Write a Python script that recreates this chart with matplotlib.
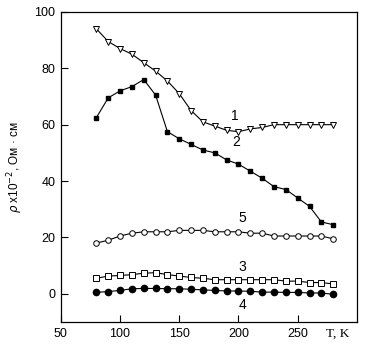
import matplotlib
matplotlib.use("Agg")
from matplotlib import pyplot as plt

plt.rcParams['font.family'] = ['Liberation Sans', 'DejaVu Sans']

T = [80, 90, 100, 110, 120, 130, 140, 150, 160, 170, 180,
     190, 200, 210, 220, 230, 240, 250, 260, 270, 280]

# curve 1 - open triangles
rho1 = [94, 89.5, 87, 85, 82, 79, 75.5, 71, 65, 61, 59.5,
        58, 57.5, 58.5, 59, 60, 60, 60, 60, 60, 60]
# curve 2 - filled squares
rho2 = [62.5, 69.5, 72, 73.5, 76, 70.5, 57.5, 55, 53, 51, 50,
        47.5, 46, 43.5, 41, 38, 37, 34, 31, 25.5, 24.5]
# curve 5 - open circles
rho5 = [18, 19, 20.5, 21.5, 22, 22, 22, 22.5, 22.5, 22.5, 22,
        22, 22, 21.5, 21.5, 20.5, 20.5, 20.5, 20.5, 20.5, 19.5]
# curve 3 - open squares
rho3 = [5.5, 6.3, 6.5, 6.8, 7.3, 7.5, 6.8, 6.3, 5.8, 5.5, 5,
        5, 5, 5, 5, 5, 4.5, 4.5, 4, 4, 3.5]
# curve 4 - filled circles
rho4 = [0.5, 0.8, 1.2, 1.8, 1.9, 1.9, 1.8, 1.8, 1.6, 1.4, 1.2,
        1.0, 1.0, 0.9, 0.6, 0.6, 0.5, 0.5, 0.3, 0.3, -0.2]

labels = ["1", "2", "5", "3", "4"]
label_x = [197, 198, 203, 203, 203]
label_y = [63, 54, 27, 9.5, -4]

fig = plt.figure(figsize=(3.71, 3.5), dpi=100)
ax = fig.add_axes([0.164, 0.08, 0.798, 0.886])

lw = 0.8
ax.plot(T, rho1, '-', color='black', lw=lw, marker='v', ms=5,
        mfc='white', mec='black', mew=0.7)
ax.plot(T, rho2, '-', color='black', lw=lw, marker='s', ms=3,
        mfc='black', mec='black')
ax.plot(T, rho5, '-', color='black', lw=lw, marker='o', ms=4,
        mfc='white', mec='black', mew=0.7)
ax.plot(T, rho3, '-', color='black', lw=lw, marker='s', ms=3.8,
        mfc='white', mec='black', mew=0.7)
ax.plot(T, rho4, '-', color='black', lw=lw, marker='o', ms=4.5,
        mfc='black', mec='black')

for s, x, y in zip(labels, label_x, label_y):
    ax.text(x, y, s, fontsize=10, ha='center', va='center')

ax.set_xlim(50, 300)
ax.set_ylim(-10, 100)
ax.set_xticks([50, 100, 150, 200, 250])
ax.set_yticks([0, 20, 40, 60, 80, 100])
ax.tick_params(direction='in', length=5, width=0.8, labelsize=9, pad=4)
for sp in ax.spines.values():
    sp.set_linewidth(0.9)

ax.text(0.936, -0.037, "T, K", transform=ax.transAxes, ha='center', va='center',
        fontsize=9.5, family='Liberation Serif')
ax.set_ylabel(r"$\rho$ x10$^{-2}$, Ом · см", fontsize=8.5)
ax.yaxis.set_label_coords(-0.122, 0.5)

fig.savefig("out.png", dpi=100)
